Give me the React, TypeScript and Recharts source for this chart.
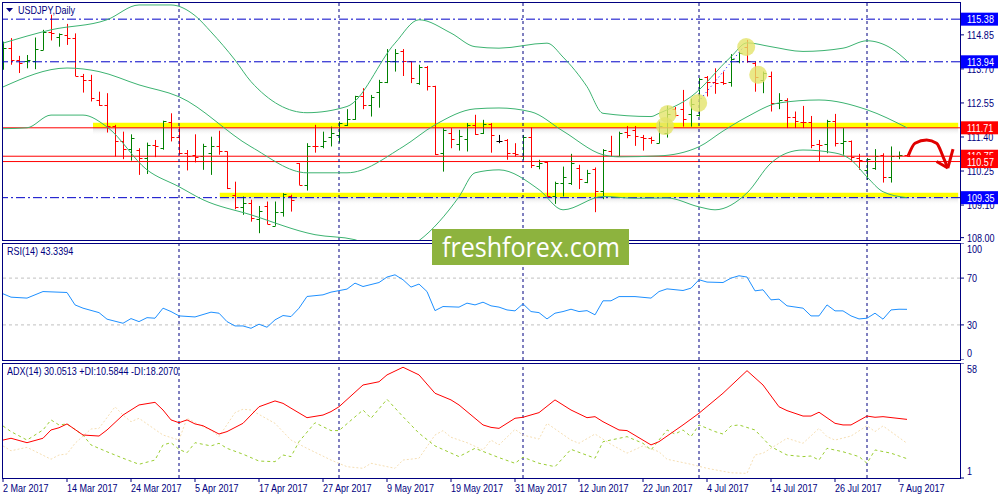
import React from 'react';
import { ComposedChart, LineChart, Line, Bar, XAxis, YAxis, ReferenceLine, ReferenceArea } from 'recharts';

const FONT = "'Liberation Sans', Arial, sans-serif";
const NAVY = '#000080';
const SX = 0.82; // horizontal squeeze to mimic the narrow terminal font
const X_DOMAIN: [number, number] = [-0.125, 119.625];

// ---- price bars (daily, 2 Mar 2017 .. 8 Aug 2017) ----
const opens = [
  113.90, 114.42, 114.00, 113.95, 113.95, 114.34, 114.96, 114.79, 114.85, 114.74,
  113.46, 113.33, 112.65, 112.48, 111.77, 111.27, 110.99, 110.97, 110.70, 111.13,
  111.02, 111.92, 111.41, 110.87, 110.79, 110.76, 110.85, 111.10, 110.91, 109.45,
  109.05, 109.16, 108.63, 109.07, 108.40, 108.88, 109.39, 110.52, 109.78, 111.10,
  111.08, 111.39, 111.47, 111.81, 112.00, 112.77, 112.47, 112.93, 113.27, 113.98,
  114.29, 113.95, 113.22, 113.78, 113.13, 110.85, 111.53, 111.17, 111.33, 111.81,
  111.53, 111.84, 111.27, 111.30, 110.85, 110.76, 111.41, 110.43, 110.57, 109.39,
  109.84, 109.86, 110.35, 109.89, 110.31, 109.58, 110.91, 110.76, 111.58, 111.64,
  111.41, 111.36, 111.21, 111.55, 112.35, 112.34, 112.17, 112.15, 113.42, 113.27,
  113.27, 113.27, 113.95, 114.45, 113.91, 113.33, 113.46, 112.54, 112.65, 112.07,
  111.92, 111.89, 111.15, 111.17, 111.95, 111.19, 111.28, 110.68, 110.29, 110.35,
  110.80, 110.06, 110.76, 110.78,
];
const highs = [
  114.62, 114.74, 114.14, 114.17, 114.76, 115.02, 115.53, 114.90, 115.22, 114.90,
  113.53, 113.50, 112.93, 112.88, 111.81, 111.58, 111.49, 111.02, 111.21, 111.30,
  111.95, 112.20, 111.75, 110.96, 111.49, 111.17, 111.41, 111.61, 110.91, 109.89,
  109.39, 109.28, 109.07, 109.22, 109.22, 109.50, 109.45, 110.52, 111.19, 111.81,
  111.58, 111.75, 111.92, 112.34, 112.79, 113.05, 112.82, 113.33, 114.37, 114.37,
  114.37, 113.95, 113.84, 113.80, 113.13, 111.70, 111.70, 111.64, 111.87, 112.15,
  111.98, 111.87, 111.47, 111.33, 111.19, 111.47, 111.72, 110.63, 110.57, 109.89,
  110.40, 110.83, 110.46, 110.29, 110.37, 110.99, 111.44, 111.58, 111.77, 111.77,
  111.47, 111.41, 111.92, 112.45, 112.41, 112.99, 112.70, 113.39, 113.46, 113.72,
  113.61, 114.20, 114.29, 114.68, 113.95, 113.61, 113.61, 112.88, 112.71, 112.26,
  112.45, 112.11, 111.30, 111.98, 112.18, 111.70, 111.28, 110.83, 110.69, 110.99,
  110.85, 111.08, 110.91, 110.80,
];
const lows = [
  113.67, 113.84, 113.56, 113.72, 113.69, 114.34, 114.66, 114.45, 114.51, 113.46,
  112.90, 112.60, 112.45, 111.55, 110.74, 110.65, 110.60, 110.12, 110.15, 110.72,
  110.97, 111.25, 110.80, 110.27, 110.54, 110.29, 110.12, 110.80, 109.64, 108.96,
  108.77, 108.54, 108.15, 108.46, 108.40, 108.71, 108.88, 109.78, 109.59, 110.87,
  111.02, 111.08, 111.21, 111.77, 111.98, 112.34, 112.09, 112.39, 113.22, 113.61,
  113.46, 113.22, 113.16, 112.97, 110.79, 110.23, 111.02, 110.94, 110.91, 111.47,
  111.50, 110.87, 111.19, 110.63, 110.74, 110.63, 110.35, 110.31, 109.39, 109.14,
  109.39, 109.78, 109.64, 109.84, 108.86, 109.30, 110.74, 110.74, 111.36, 111.10,
  110.94, 111.17, 111.19, 111.38, 112.09, 111.75, 111.75, 112.09, 112.77, 112.86,
  113.16, 113.10, 113.89, 113.91, 112.93, 112.88, 112.26, 112.34, 111.70, 111.70,
  111.70, 111.02, 110.59, 110.85, 111.08, 110.80, 110.57, 110.29, 109.95, 110.29,
  109.86, 109.86, 110.65, 110.74,
];
const closes = [
  114.42, 114.00, 113.91, 114.00, 114.37, 114.96, 114.90, 114.88, 114.74, 113.46,
  113.33, 112.71, 112.48, 111.77, 111.27, 111.00, 111.36, 110.70, 111.13, 111.08,
  111.94, 111.41, 110.87, 110.76, 110.74, 111.10, 111.10, 110.91, 109.67, 109.05,
  109.16, 108.66, 108.90, 108.46, 108.88, 109.47, 109.28, 109.78, 111.10, 111.08,
  111.28, 111.55, 111.87, 112.00, 112.77, 112.47, 112.75, 113.27, 113.98, 114.23,
  113.95, 113.39, 113.78, 113.13, 110.83, 111.64, 111.33, 111.44, 111.81, 111.50,
  111.84, 111.47, 111.27, 110.85, 110.83, 111.41, 110.46, 110.51, 109.39, 109.86,
  110.06, 110.51, 109.98, 110.20, 109.58, 110.97, 110.76, 111.55, 111.47, 111.44,
  111.36, 111.30, 111.77, 112.18, 112.14, 112.00, 112.52, 113.35, 113.27, 113.22,
  113.22, 114.03, 114.25, 113.95, 113.44, 113.56, 112.54, 112.65, 112.07, 111.95,
  111.89, 111.13, 111.13, 111.95, 111.19, 111.28, 110.74, 110.63, 110.65, 110.76,
  110.06, 110.76, 110.78, 110.76,
];

// ---- Bollinger bands (index, price) ----
const bbUpper: [number, number][] = [
  [0, 114.57], [6, 115.02], [13, 115.36], [17, 115.86], [21, 115.86], [24, 115.5], [26, 114.95],
  [29, 114.0], [31, 113.27], [38, 112.22], [43, 112.43], [49, 114.57], [52, 115.36], [56, 114.91],
  [59, 114.45], [62, 114.4], [68, 114.57], [70, 114.1], [73, 113.1], [75, 112.2], [81, 112.09],
  [82, 112.2], [86, 112.76], [91, 114.11], [93, 114.58], [96, 114.45], [100, 114.29], [105, 114.4],
  [108, 114.65], [111, 114.4], [113, 113.97],
];
const bbMiddle: [number, number][] = [
  [0, 113.09], [8, 113.73], [12, 113.61], [17, 113.16], [22, 112.76], [31, 111.07], [38, 110.19],
  [43, 110.19], [50, 111.07], [54, 111.81], [59, 112.35], [62, 112.38], [66, 112.25], [70, 111.6],
  [75, 110.8], [77, 110.73], [82, 110.76], [87, 111.07], [90, 111.6], [93, 112.08], [97, 112.55],
  [102, 112.65], [108, 112.32], [113, 111.71],
];
const bbLower: [number, number][] = [
  [0, 111.68], [3, 111.71], [6, 112.14], [10, 112.14], [13, 111.74], [18, 110.29], [22, 109.72],
  [25, 109.28], [31, 108.77], [39, 108.1], [44, 107.93], [48, 107.4], [52, 107.9], [57, 109.38],
  [59, 110.19], [62, 110.29], [67, 109.62], [70, 108.94], [75, 109.39], [79, 109.33], [83, 109.34],
  [87, 109.04], [89, 108.94], [93, 109.51], [96, 110.52], [98, 110.86], [100, 110.96], [104, 110.86],
  [106, 110.63], [108, 110.05], [110, 109.55], [113, 109.35],
];

// ---- RSI(14) ----
const rsiPts: [number, number][] = [
  [0, 56.6], [1, 53.7], [3, 52.9], [5, 58.5], [8, 57.7], [9, 47.1], [10, 44.3], [12, 40.5], [13, 34.9],
  [15, 31.4], [16, 35.4], [17, 32.8], [18, 36.2], [19, 35.7], [20, 44.3], [21, 41.4], [22, 37.7],
  [24, 36.8], [26, 40.9], [27, 40.0], [28, 32.8], [29, 29.1], [30, 29.1], [31, 27.1], [32, 30.6],
  [33, 28.0], [34, 34.3], [35, 38.0], [36, 37.1], [37, 44.3], [38, 54.3], [40, 55.7], [41, 58.0],
  [43, 60.6], [44, 65.7], [45, 62.8], [47, 66.2], [48, 70.9], [49, 72.8], [50, 68.6], [51, 62.3],
  [52, 64.9], [53, 58.5], [54, 42.2], [55, 45.7], [57, 45.2], [58, 48.6], [59, 47.1], [60, 49.4],
  [61, 46.3], [62, 45.2], [63, 42.8], [64, 42.0], [65, 48.0], [66, 41.4], [67, 40.5], [68, 35.1],
  [69, 40.0], [70, 41.4], [71, 43.4], [72, 41.4], [73, 42.2], [74, 38.6], [75, 50.6], [76, 50.6],
  [77, 54.2], [79, 54.2], [81, 52.9], [82, 58.5], [83, 60.8], [85, 59.4], [86, 61.4], [87, 68.6],
  [88, 66.6], [90, 66.2], [91, 70.0], [92, 72.0], [93, 70.9], [94, 59.1], [95, 60.0], [96, 51.4],
  [97, 52.0], [98, 46.3], [100, 44.3], [101, 37.7], [102, 37.7], [103, 47.1], [104, 42.0], [105, 42.0],
  [106, 37.7], [107, 35.1], [108, 35.7], [109, 40.0], [110, 34.9], [111, 42.8], [112, 43.4], [113, 43.3],
];

// ---- ADX(14), +DI, -DI ----
const adxPts: [number, number][] = [
  [0, 19.8], [1, 20.7], [3, 18.5], [5, 20.7], [6, 24.8], [7, 25.9], [8, 27.8], [10, 22.3], [12, 21.8],
  [13, 24.8], [15, 32.2], [17, 37.2], [19, 38.5], [20, 34.7], [21, 29.8], [22, 28.4], [23, 29.8],
  [24, 27.8], [25, 26.9], [27, 22.8], [28, 24.0], [30, 28.1], [32, 36.3], [34, 39.2], [35, 38.0],
  [36, 35.6], [38, 30.9], [40, 32.2], [41, 33.9], [42, 36.3], [45, 47.1], [47, 48.7], [48, 52.1],
  [50, 55.9], [52, 52.1], [54, 43.0], [56, 39.7], [57, 37.2], [60, 27.3], [61, 26.1], [62, 25.6],
  [64, 30.6], [65, 31.1], [67, 33.4], [69, 39.7], [71, 34.7], [73, 30.9], [74, 31.4], [75, 28.9],
  [77, 24.8], [78, 24.5], [81, 17.4], [82, 19.0], [85, 27.3], [87, 33.1], [90, 43.0], [93, 54.2],
  [95, 47.1], [97, 36.3], [98, 34.4], [100, 31.7], [101, 31.7], [102, 33.6], [104, 28.1], [105, 27.3],
  [106, 27.3], [108, 31.7], [109, 31.1], [110, 31.4], [113, 30.05],
];
const plusDiPts: [number, number][] = [
  [0, 26.8], [1, 24.0], [3, 19.8], [5, 24.8], [6, 29.8], [7, 27.3], [8, 27.8], [10, 22.3], [11, 17.4],
  [13, 14.0], [15, 10.8], [17, 7.8], [19, 9.9], [20, 17.4], [21, 18.5], [22, 15.2], [23, 13.5],
  [24, 18.5], [26, 16.9], [27, 18.2], [28, 15.7], [30, 12.8], [32, 9.4], [34, 9.1], [35, 12.4],
  [36, 11.6], [37, 19.0], [39, 28.4], [41, 24.5], [42, 24.5], [45, 34.7], [46, 30.6], [48, 40.0],
  [50, 31.4], [52, 23.2], [54, 16.9], [57, 11.6], [59, 15.7], [62, 11.1], [64, 8.3], [65, 11.3],
  [67, 8.3], [69, 6.6], [71, 15.2], [74, 10.8], [75, 19.0], [78, 21.5], [80, 18.2], [81, 14.9],
  [83, 24.8], [84, 22.8], [85, 24.8], [86, 21.5], [87, 27.3], [89, 24.0], [90, 22.8], [91, 26.8],
  [92, 27.3], [94, 24.8], [96, 16.5], [98, 12.4], [100, 11.6], [101, 11.9], [102, 9.9], [103, 15.7],
  [105, 14.0], [107, 11.6], [108, 8.3], [109, 14.9], [111, 13.3], [113, 10.58],
];
const minusDiPts: [number, number][] = [
  [0, 16.9], [1, 14.5], [3, 16.2], [6, 10.3], [7, 12.4], [8, 12.9], [9, 18.2], [11, 25.3], [12, 25.6],
  [14, 36.3], [15, 32.2], [16, 28.9], [17, 30.6], [20, 22.3], [22, 19.8], [23, 30.6], [25, 26.4],
  [26, 24.8], [27, 21.5], [29, 33.4], [30, 35.1], [31, 34.7], [34, 28.1], [36, 19.8], [38, 15.7],
  [41, 9.9], [43, 6.6], [45, 5.8], [46, 8.3], [49, 5.8], [50, 9.9], [52, 10.8], [54, 22.3], [55, 24.5],
  [56, 21.2], [58, 18.5], [60, 14.9], [61, 19.8], [62, 17.4], [64, 25.1], [65, 22.3], [67, 20.3],
  [68, 28.1], [71, 19.8], [72, 18.2], [74, 22.8], [76, 17.7], [78, 13.3], [80, 16.9], [82, 14.0],
  [83, 10.3], [86, 7.8], [88, 5.8], [91, 3.6], [93, 3.3], [94, 12.4], [95, 13.3], [97, 18.2],
  [98, 20.7], [100, 18.2], [102, 25.6], [103, 21.5], [104, 19.8], [106, 21.8], [108, 26.9], [109, 24.0],
  [110, 26.8], [113, 18.2],
];

// ---- annotations ----
const levelsBlue = [115.38, 113.94, 109.35];
const levelsRed = [111.71, 110.75, 110.57];
const monthStarts = [22, 42, 65, 87, 108];
const highlightCircles: [number, number][] = [[82.75, 111.77], [83.1, 112.18], [86.9, 112.55], [92.9, 114.44], [94.4, 113.5]];
const tradeLine: [number, number][] = [[86.9, 112.58], [92.5, 114.42]];
const arrowPath: [number, number][] = [[113.16, 110.77], [114.0, 111.19], [115.46, 111.3], [116.7, 111.19], [117.5, 110.74], [118.1, 110.35]];
const arrowTip: [number, number] = [118.1, 110.35];
const arrowArms: [number, number][] = [[116.7, 110.57], [118.75, 110.99]];

// ---- axes ----
const priceTicks = [114.85, 113.7, 112.55, 111.4, 110.25, 109.1, 108.0];
const priceBoxes = [
  { value: 115.38, color: '#0000ff' },
  { value: 113.94, color: '#0000ff' },
  { value: 111.71, color: '#ff0000' },
  { value: 110.75, color: '#ff0000' },
  { value: 110.57, color: '#ff0000' },
  { value: 109.35, color: '#0000ff' },
];
const rsiTicks = [100, 70, 30, 0];
const adxTicks = [58, 1];
const dateTickIdx = [0, 8, 16, 24, 32, 40, 48, 56, 64, 72, 80, 88, 96, 104, 112];
const dateLabels = ['2 Mar 2017', '14 Mar 2017', '24 Mar 2017', '5 Apr 2017', '17 Apr 2017', '27 Apr 2017', '9 May 2017', '19 May 2017', '31 May 2017', '12 Jun 2017', '22 Jun 2017', '4 Jul 2017', '14 Jul 2017', '26 Jul 2017', '7 Aug 2017'];

const bars = opens.map((o, i) => ({ i, o, h: highs[i], l: lows[i], c: closes[i], range: [lows[i], highs[i]] }));
const toPts = (a: [number, number][]) => a.map(([i, v]) => ({ i, v }));

function OhlcShape(props: any) {
  const { x, y, width, height, payload } = props;
  if (x == null || payload == null) return null;
  const top = Math.min(y, y + height);
  const h = Math.abs(height);
  const cx = Math.round(x + width / 2) + 0.5;
  const span = payload.h - payload.l || 1;
  const yO = Math.round(top + ((payload.h - payload.o) / span) * h) + 0.5;
  const yC = Math.round(top + ((payload.h - payload.c) / span) * h) + 0.5;
  const col = payload.c > payload.o ? '#008000' : payload.c < payload.o ? '#ff0000' : '#000000';
  return (
    <g stroke={col} strokeWidth={1}>
      <line x1={cx} x2={cx} y1={top} y2={top + Math.max(h, 1)} />
      <line x1={cx - 3} x2={cx} y1={yO} y2={yO} />
      <line x1={cx} x2={cx + 3} y1={yC} y2={yC} />
    </g>
  );
}

const NarrowText = ({ x, y, fill, children, anchor }: any) => (
  <text transform={`translate(${x},${y}) scale(${SX},1)`} fill={fill} fontSize={11} fontFamily={FONT} textAnchor={anchor || 'start'}>
    {children}
  </text>
);

function PriceTick(props: any) {
  const { x, y, payload } = props;
  const v = payload.value as number;
  const box = priceBoxes.find((b) => b.value === v);
  if (box) {
    return (
      <g>
        <rect x={x - 5} y={y - 6.5} width={37} height={13} fill={box.color} />
        <NarrowText x={x + 1} y={y + 4} fill="#ffffff">{v.toFixed(2)}</NarrowText>
      </g>
    );
  }
  return <NarrowText x={x + 1} y={y + 4} fill={NAVY}>{v.toFixed(2)}</NarrowText>;
}

function IndTick(props: any) {
  const { x, y, payload, top, bottom } = props;
  const v = payload.value as number;
  const dy = v === top ? 10 : v === bottom ? -3 : 4;
  return <NarrowText x={x + 1} y={y + dy} fill={NAVY}>{v}</NarrowText>;
}

function DateTick(props: any) {
  const { x, y, payload } = props;
  const k = dateTickIdx.indexOf(payload.value);
  return <NarrowText x={x} y={y + 8} fill={NAVY}>{dateLabels[k]}</NarrowText>;
}

const Frame = ({ top, height }: { top: number; height: number }) => (
  <div style={{ position: 'absolute', left: 2, top, width: 959, height, border: `1px solid ${NAVY}`, boxSizing: 'border-box', pointerEvents: 'none' }} />
);

const labelStyle = (left: number, top: number): React.CSSProperties => ({
  position: 'absolute', left, top, fontSize: 11, lineHeight: '13px', color: NAVY, whiteSpace: 'nowrap',
  transform: `scaleX(${SX})`, transformOrigin: 'left top', fontFamily: FONT,
});

export default function App() {
  const sepLines = monthStarts.map((m) => (
    <ReferenceLine key={'m' + m} x={m} stroke={NAVY} strokeDasharray="3 3" />
  ));
  return (
    <div style={{ position: 'absolute', left: 0, top: 0, width: 1000, height: 500, background: '#fff', overflow: 'hidden', fontFamily: FONT }}>
      {/* main price panel */}
      <div style={{ position: 'absolute', left: 0, top: 0 }}>
        <ComposedChart width={1000} height={243} data={bars} margin={{ top: 2, right: 0, bottom: 3, left: 2 }}>
          <defs>
            <linearGradient id="shadow" x1="0" y1="0" x2="0" y2="1">
              <stop offset="0%" stopColor="#808080" stopOpacity={0.55} />
              <stop offset="100%" stopColor="#ffffff" stopOpacity={0} />
            </linearGradient>
          </defs>
          <XAxis type="number" dataKey="i" domain={X_DOMAIN} hide allowDataOverflow />
          <YAxis
            orientation="right"
            width={40}
            domain={[107.92, 115.96]}
            allowDataOverflow
            ticks={[...priceTicks, ...priceBoxes.map((b) => b.value)]}
            interval={0}
            axisLine={false}
            tickLine={{ stroke: NAVY }}
            tickSize={4}
            tickMargin={2}
            tick={<PriceTick />}
          />
          <ReferenceArea x1={11.25} x2={119.4} y1={111.45} y2={111.71} fill="url(#shadow)" stroke="none" />
          <ReferenceArea x1={11.25} x2={119.4} y1={111.71} y2={111.88} fill="#ffff00" fillOpacity={1} stroke="none" />
          <ReferenceArea x1={27.1} x2={119.4} y1={109.1} y2={109.37} fill="url(#shadow)" stroke="none" />
          <ReferenceArea x1={27.1} x2={119.4} y1={109.37} y2={109.52} fill="#ffff00" fillOpacity={1} stroke="none" />
          {levelsBlue.map((v) => (
            <ReferenceLine key={'b' + v} y={v} stroke="#0000c8" strokeDasharray="9 3 2 3" />
          ))}
          {levelsRed.map((v) => (
            <ReferenceLine key={'r' + v} y={v} stroke="#ff0000" />
          ))}
          {sepLines}
          <Line data={toPts(bbUpper)} dataKey="v" type="monotone" stroke="#3cb371" strokeWidth={1} dot={false} isAnimationActive={false} />
          <Line data={toPts(bbMiddle)} dataKey="v" type="monotone" stroke="#3cb371" strokeWidth={1} dot={false} isAnimationActive={false} />
          <Line data={toPts(bbLower)} dataKey="v" type="monotone" stroke="#3cb371" strokeWidth={1} dot={false} isAnimationActive={false} />
          <Line data={toPts(highlightCircles)} dataKey="v" stroke="none" dot={{ r: 9, fill: '#e3e36a', fillOpacity: 0.8, stroke: 'none' }} isAnimationActive={false} />
          <Line data={toPts(tradeLine)} dataKey="v" stroke="#0000ff" strokeDasharray="1 3" dot={false} isAnimationActive={false} />
          <Bar dataKey="range" barSize={7} shape={<OhlcShape />} isAnimationActive={false} />
          <Line data={toPts(arrowPath)} dataKey="v" type="monotone" stroke="#e00000" strokeWidth={3} dot={false} isAnimationActive={false} />
          {arrowArms.map(([i, v], k) => (
            <ReferenceLine key={'a' + k} segment={[{ x: arrowTip[0], y: arrowTip[1] }, { x: i, y: v }]} stroke="#e00000" strokeWidth={3} />
          ))}
        </ComposedChart>
      </div>

      {/* RSI panel */}
      <div style={{ position: 'absolute', left: 0, top: 243 }}>
        <LineChart width={1000} height={117} margin={{ top: 0, right: 0, bottom: 0, left: 2 }}>
          <XAxis type="number" dataKey="i" domain={X_DOMAIN} hide allowDataOverflow />
          <YAxis orientation="right" width={40} domain={[0, 100]} ticks={rsiTicks} interval={0} axisLine={false}
            tickLine={{ stroke: NAVY }} tickSize={4} tickMargin={2} tick={<IndTick top={100} bottom={0} />} />
          <ReferenceLine y={70} stroke="#c0c0c0" strokeDasharray="3 3" />
          <ReferenceLine y={30} stroke="#c0c0c0" strokeDasharray="3 3" />
          {sepLines}
          <Line data={toPts(rsiPts)} dataKey="v" type="linear" stroke="#1e90ff" strokeWidth={1} dot={false} isAnimationActive={false} />
        </LineChart>
      </div>

      {/* ADX panel */}
      <div style={{ position: 'absolute', left: 0, top: 363 }}>
        <LineChart width={1000} height={137} margin={{ top: 0, right: 0, bottom: 0, left: 2 }}>
          <XAxis type="number" dataKey="i" domain={X_DOMAIN} allowDataOverflow ticks={dateTickIdx} interval={0}
            height={22} axisLine={false} tickLine={{ stroke: NAVY }} tickSize={4} tickMargin={2} tick={<DateTick />} />
          <YAxis orientation="right" width={40} domain={[1, 58]} ticks={adxTicks} interval={0} axisLine={false}
            tickLine={{ stroke: NAVY }} tickSize={4} tickMargin={2} tick={<IndTick top={58} bottom={1} />} />
          {sepLines}
          <Line data={toPts(minusDiPts)} dataKey="v" type="linear" stroke="#f5deb3" strokeWidth={1} strokeDasharray="2 2" dot={false} isAnimationActive={false} />
          <Line data={toPts(plusDiPts)} dataKey="v" type="linear" stroke="#9acd32" strokeWidth={1} strokeDasharray="3 3" dot={false} isAnimationActive={false} />
          <Line data={toPts(adxPts)} dataKey="v" type="linear" stroke="#ff0000" strokeWidth={1} dot={false} isAnimationActive={false} />
        </LineChart>
      </div>

      <Frame top={2} height={239} />
      <Frame top={243} height={118} />
      <Frame top={363} height={116} />

      {/* header labels */}
      <svg style={{ position: 'absolute', left: 6, top: 8 }} width={8} height={6}>
        <polygon points="0,0 7,0 3.5,4" fill={NAVY} />
      </svg>
      <div style={labelStyle(18, 4)}>USDJPY,Daily</div>
      <div style={labelStyle(7, 245)}>RSI(14) 43.3394</div>
      <div style={labelStyle(7, 365)}>ADX(14) 30.0513 +DI:10.5844 -DI:18.2070</div>

      {/* watermark */}
      <div style={{ position: 'absolute', left: 432, top: 229, width: 197, height: 36, background: '#8db33e' }}>
        <svg width={197} height={36} style={{ display: 'block' }}>
          <text x={10} y={28} fill="#ffffff" fontSize={28} fontFamily="'Open Sans', sans-serif" textLength={178} lengthAdjust="spacingAndGlyphs">freshforex.com</text>
        </svg>
      </div>
    </div>
  );
}
